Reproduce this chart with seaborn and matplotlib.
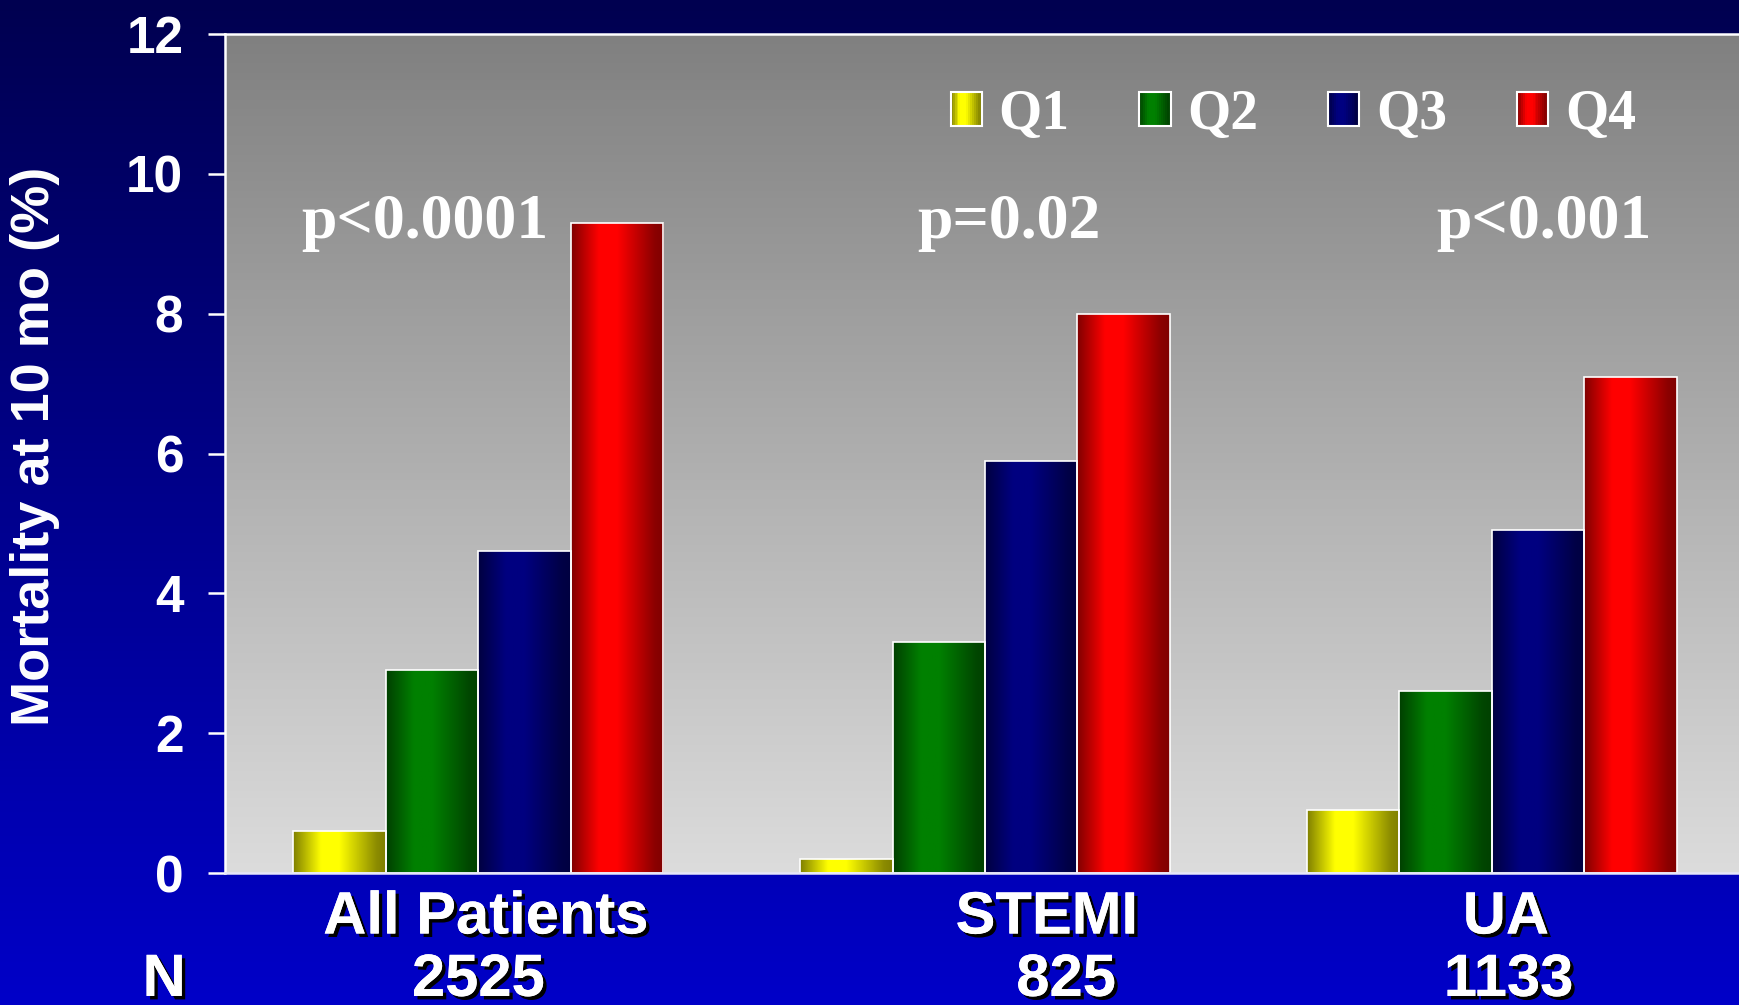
import numpy as np
import pandas as pd
import seaborn as sns
import matplotlib
matplotlib.use("Agg")
import matplotlib.pyplot as plt
import matplotlib.patheffects as pe
from matplotlib import font_manager
from matplotlib.legend_handler import HandlerBase
from matplotlib.patches import Rectangle
from matplotlib.colors import to_rgb

# data
groups = ["All Patients", "STEMI", "UA"]
group_n = ["2525", "825", "1133"]
quartiles = ["Q1", "Q2", "Q3", "Q4"]
q1 = [0.6, 0.2, 0.9]
q2 = [2.9, 3.3, 2.6]
q3 = [4.6, 5.9, 4.9]
q4 = [9.3, 8.0, 7.1]
p_values = ["p<0.0001", "p=0.02", "p<0.001"]
y_ticks = [0, 2, 4, 6, 8, 10, 12]

# layout / style
COLORS = ["#FFFF00", "#008000", "#000080", "#FF0000"]
P_X = [-0.105, 1.048, 2.103]
P_Y = 9.3
LABEL_X = [0.015, 1.122, 2.028]
N_X = [0.0, 1.16, 2.033]

names = {f.name for f in font_manager.fontManager.ttflist}
NARROW = "Liberation Sans Narrow" if "Liberation Sans Narrow" in names else "Liberation Sans"
SANS = "Liberation Sans"
SERIF = "Liberation Serif"
CAT_SIZE = 50 if NARROW != SANS else 43


def shade(t):
    return np.interp(t, [0, 0.3, 0.5, 0.9, 1.0], [0.5, 1.0, 1.0, 0.55, 0.5])


class GradientHandler(HandlerBase):
    def create_artists(self, legend, orig_handle, xdescent, ydescent, width, height, fontsize, trans):
        base = np.array(to_rgb(orig_handle.get_facecolor()))
        n = 16
        arts = []
        for i in range(n):
            arts.append(Rectangle((-xdescent + width * i / n, -ydescent), width / n + 0.3, height,
                                  facecolor=base * shade((i + 0.5) / n), edgecolor="none", transform=trans))
        arts.append(Rectangle((-xdescent, -ydescent), width, height, facecolor="none",
                              edgecolor="white", lw=1.5, transform=trans))
        return arts


def main():
    df = pd.DataFrame({
        "group": groups * 4,
        "quartile": [q for q in quartiles for _ in groups],
        "value": q1 + q2 + q3 + q4,
    })

    sns.set_style("white")
    plt.rcParams["font.family"] = [SANS, "DejaVu Sans"]

    fig = plt.figure(figsize=(17.4, 10.05), dpi=100)

    # figure background gradient (navy -> blue)
    bg = fig.add_axes([0, 0, 1, 1], zorder=-5)
    t = np.linspace(0, 1, 256)[:, None]
    top = np.array([0, 0, 80]) / 255
    bot = np.array([0, 0, 200]) / 255
    bg.imshow((top + (bot - top) * t[..., None]) * np.ones((1, 2, 1)), aspect="auto",
              extent=[0, 1, 0, 1], origin="upper")
    bg.set_axis_off()

    ax = fig.add_axes([0.1293, 0.1313, 0.8707, 0.8348])
    sns.barplot(data=df, x="group", y="value", hue="quartile", order=groups, hue_order=quartiles,
                palette=COLORS, width=0.73, gap=0, saturation=1, legend=False, ax=ax,
                edgecolor="white", linewidth=1.2)

    xlim = (-0.5, 2.49)
    ylim = (0, 12)

    # plot-area gradient (dark gray -> light gray)
    g = np.linspace(128, 220, 256)[:, None] / 255
    ax.imshow(np.repeat(g[..., None], 3, axis=2) * np.ones((1, 2, 1)), aspect="auto",
              extent=[xlim[0], xlim[1], ylim[0], ylim[1]], origin="upper", zorder=0)

    # horizontal gradient inside each bar
    prof = shade(np.linspace(0, 1, 128))
    for patch in list(ax.patches):
        if not isinstance(patch, Rectangle) or patch.get_height() <= 0:
            continue
        base = np.array(to_rgb(patch.get_facecolor()))
        x0, w, h = patch.get_x(), patch.get_width(), patch.get_height()
        img = ax.imshow(base[None, None, :] * prof[None, :, None], aspect="auto",
                        extent=[x0, x0 + w, 0, h], zorder=2)
        img.set_clip_path(patch)
        patch.set_facecolor("none")
        patch.set_zorder(3)

    ax.set_xlim(*xlim)
    ax.set_ylim(*ylim)
    ax.set_yticks(y_ticks)
    ax.set_yticklabels([str(v) for v in y_ticks], fontfamily=[NARROW, SANS], fontweight="bold",
                       fontsize=37, color="white")
    ax.tick_params(axis="y", length=12, width=1.8, color="white", pad=18, left=True)
    ax.set_xticks([])
    ax.set_xlabel("")
    ax.set_ylabel("Mortality at 10 mo (%)", fontsize=39, fontweight="bold", color="white")
    ax.yaxis.set_label_coords(-0.109, 0.509)

    for side in ["left", "top", "bottom"]:
        ax.spines[side].set_visible(True)
        ax.spines[side].set_color("white")
        ax.spines[side].set_linewidth(1.8)
        ax.spines[side].set_zorder(5)
    ax.spines["bottom"].set_color("#E6E6FA")
    ax.spines["right"].set_visible(False)

    # p values
    for x, txt in zip(P_X, p_values):
        ax.text(x, P_Y, txt, ha="center", va="center", fontsize=46, fontweight="bold",
                fontfamily=[SERIF, "DejaVu Serif"], color="white", zorder=6)

    # category labels and N row with drop shadow
    shadow = [pe.withSimplePatchShadow(offset=(2.5, -2.5), shadow_rgbFace="black", alpha=1.0), pe.Normal()]
    trans = ax.get_xaxis_transform()
    for x, txt in zip(LABEL_X, groups):
        ax.text(x, -0.0536, txt, transform=trans, ha="center", va="center", fontsize=CAT_SIZE,
                fontweight="bold", fontfamily=[NARROW, SANS], color="white", path_effects=shadow,
                clip_on=False)
    ax.text(-0.62, -0.128, "N", transform=trans, ha="center", va="center", fontsize=CAT_SIZE,
            fontweight="bold", fontfamily=[NARROW, SANS], color="white", path_effects=shadow,
            clip_on=False)
    for x, txt in zip(N_X, group_n):
        ax.text(x, -0.128, txt, transform=trans, ha="center", va="center", fontsize=CAT_SIZE,
                fontweight="bold", fontfamily=[NARROW, SANS], color="white", path_effects=shadow,
                clip_on=False)

    # legend with gradient swatches
    handles = [Rectangle((0, 0), 1, 1, facecolor=c) for c in COLORS]
    leg = ax.legend(handles, quartiles, handler_map={Rectangle: GradientHandler()},
                    loc="center left", bbox_to_anchor=(0.479, 0.904), ncol=4, frameon=False,
                    borderpad=0, borderaxespad=0, handlelength=0.56, handleheight=0.58,
                    handletextpad=0.3, columnspacing=1.26,
                    prop={"family": [SERIF, "DejaVu Serif"], "weight": "bold", "size": 40})
    for text in leg.get_texts():
        text.set_color("white")
    leg.set_zorder(6)

    fig.savefig("out.png", dpi=100)


if __name__ == "__main__":
    main()
